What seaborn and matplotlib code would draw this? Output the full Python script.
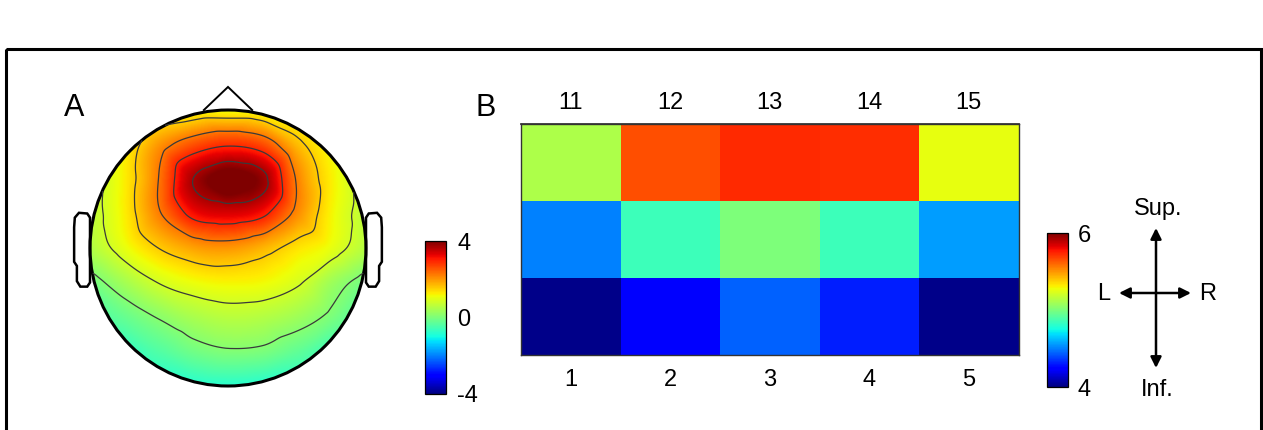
import numpy as np
import pandas as pd
import matplotlib
matplotlib.use("Agg")
import matplotlib.pyplot as plt
import matplotlib.tri as mtri
from matplotlib.patches import Circle, Polygon, Rectangle
import seaborn as sns

sns.set_theme(style="white")
plt.rcParams['font.family'] = ['Liberation Sans', 'DejaVu Sans']
plt.rcParams['axes.unicode_minus'] = False
plt.rcParams['text.color'] = 'black'
plt.rcParams['xtick.color'] = 'black'
plt.rcParams['ytick.color'] = 'black'

# panel A: scalp map values (head radius = 1)
grid_x = [-1, -0.75, -0.5, -0.25, 0, 0.25, 0.5, 0.75, 1]
grid_y = [1, 0.75, 0.5, 0.25, 0, -0.25, -0.5, -0.75, -1]
scalp_rows = [
    [0.5, 0.8, 1.0, 1.1, 1.1, 1.05, 0.95, 0.8, 0.5],
    [0.8, 1.2, 2.0, 2.6, 2.9, 2.65, 1.7, 1.1, 0.7],
    [0.6, 1.25, 2.28, 3.7, 4.2, 3.85, 2.2, 1.25, 0.6],
    [0.6, 1.25, 2.2, 3.15, 3.35, 3.1, 2.1, 1.2, 0.6],
    [0.5, 1.05, 1.55, 1.9, 2.0, 1.75, 1.35, 1.05, 0.55],
    [-0.1, 0.4, 0.85, 1.1, 1.2, 1.15, 0.9, 0.35, -0.1],
    [-0.5, -0.2, 0.15, 0.45, 0.6, 0.55, 0.35, 0.0, -0.5],
    [-0.8, -0.7, -0.4, -0.1, 0.05, 0.0, -0.25, -0.6, -0.8],
    [-1.0, -0.95, -0.9, -0.85, -0.8, -0.85, -0.9, -0.95, -1.0],
]
contour_levels = [0.11, 0.83, 1.54, 2.26, 2.97, 3.69]
scalp_ticks = [-4, 0, 4]

# panel B: channel grid
top_labels = ["11", "12", "13", "14", "15"]
bottom_labels = ["1", "2", "3", "4", "5"]
row_top = [5.12, 5.65, 5.73, 5.72, 5.26]
row_mid = [4.50, 4.85, 5.00, 4.85, 4.56]
row_bot = [4.02, 4.23, 4.44, 4.31, 4.02]

W, H = 1263, 430
fig = plt.figure(figsize=(W / 100, H / 100), dpi=100)

# overlay in pixel coords for frame, panel letters and orientation cross
ov = fig.add_axes([0, 0, 1, 1])
ov.set_xlim(0, W)
ov.set_ylim(H, 0)
ov.axis("off")
ov.add_patch(Rectangle((6, 49), 1255, 420, fill=False, lw=2.2, ec="black", clip_on=False))
ov.text(64, 116, "A", fontsize=22, ha="left", va="baseline")
ov.text(476, 116, "B", fontsize=22, ha="left", va="baseline")

arr = dict(arrowstyle="<|-|>", lw=1.8, color="black", mutation_scale=16, shrinkA=0, shrinkB=0)
ov.annotate("", xy=(1156, 228), xytext=(1156, 368), arrowprops=arr)
ov.annotate("", xy=(1119, 293), xytext=(1191, 293), arrowprops=arr)
ov.text(1158, 209, "Sup.", fontsize=17, ha="center", va="center")
ov.text(1157, 390, "Inf.", fontsize=17, ha="center", va="center")
ov.text(1104, 294, "L", fontsize=17, ha="center", va="center")
ov.text(1208, 294, "R", fontsize=17, ha="center", va="center")

# ---- panel A: topographic map
axa = fig.add_axes([55.5 / W, 0.0542, 345 / W, 0.7702])
gx, gy = np.meshgrid(grid_x, grid_y)
scalp = np.array(scalp_rows)
tri = mtri.Triangulation(gx.ravel(), gy.ravel())
interp = mtri.CubicTriInterpolator(tri, scalp.ravel(), kind="geom")
xi = np.linspace(-1, 1, 401)
XI, YI = np.meshgrid(xi, xi)
ZI = interp(XI, YI)
ZI = np.ma.masked_where(XI ** 2 + YI ** 2 > 1.0, ZI)

im = axa.imshow(ZI, extent=(-1, 1, -1, 1), origin="lower", cmap="jet",
                vmin=-4, vmax=4, aspect="auto", interpolation="bilinear")
axa.contour(XI, YI, ZI, levels=contour_levels, colors="#3a3a3a", linewidths=0.9,
            negative_linestyles="solid")

axa.add_patch(Circle((0, 0), 1, fill=False, lw=2.2, ec="black"))
axa.add_patch(Polygon([[-0.18, 0.995], [0, 1.167], [0.18, 0.995]], closed=False,
                      fill=False, lw=1.4, ec="black"))
ear_x = [1.0, 1.02, 1.08, 1.11, 1.115, 1.115, 1.095, 1.095, 1.07, 1.02, 1.0]
ear_y = [0.22, 0.25, 0.255, 0.22, 0.15, -0.10, -0.13, -0.24, -0.28, -0.28, -0.25]
for s in (1, -1):
    axa.add_patch(Polygon(np.column_stack([np.array(ear_x) * s, ear_y]), closed=True,
                          fill=False, lw=1.8, ec="black"))
axa.set_xlim(-1.25, 1.25)
axa.set_ylim(-1.15, 1.25)
axa.axis("off")

caxa = fig.add_axes([425 / W, 36 / H, 21 / W, 153 / H])
cba = fig.colorbar(im, cax=caxa, ticks=scalp_ticks)
cba.ax.tick_params(length=0, labelsize=17, pad=8)
cba.outline.set_linewidth(0.9)
cba.outline.set_edgecolor("black")

# ---- panel B: heatmap
heat = pd.DataFrame([row_top, row_mid, row_bot], columns=bottom_labels)
axb = fig.add_axes([521 / W, 75 / H, 497.5 / W, 231 / H])
caxb = fig.add_axes([1047 / W, 43 / H, 21 / W, 154 / H])
sns.heatmap(heat, cmap="jet", vmin=4, vmax=6, ax=axb, cbar_ax=caxb,
            xticklabels=bottom_labels, yticklabels=False, linewidths=0)
for sp in axb.spines.values():
    sp.set_visible(True)
    sp.set_linewidth(1.0)
    sp.set_edgecolor("#333333")
axb.set_yticks([0.5, 1.5, 2.5])
axb.set_yticklabels([])
axb.set_xlabel("")
axb.tick_params(axis="both", direction="in", length=4, width=0.8, color="#333333",
                bottom=True, left=True, right=True, top=False, labelsize=17)
axb.tick_params(axis="x", labelrotation=0, pad=10)
sec = axb.secondary_xaxis("top")
sec.set_xticks(axb.get_xticks(), labels=top_labels)
sec.tick_params(direction="in", length=4, width=0.8, color="#333333", labelsize=17, pad=7)
sec.spines["top"].set_edgecolor("#333333")

cbb = axb.collections[0].colorbar
cbb.set_ticks([4, 6])
cbb.ax.tick_params(length=0, labelsize=17, pad=7)
cbb.outline.set_visible(True)
cbb.outline.set_linewidth(0.9)
cbb.outline.set_edgecolor("black")

fig.savefig("out.png", dpi=100, facecolor="white")
